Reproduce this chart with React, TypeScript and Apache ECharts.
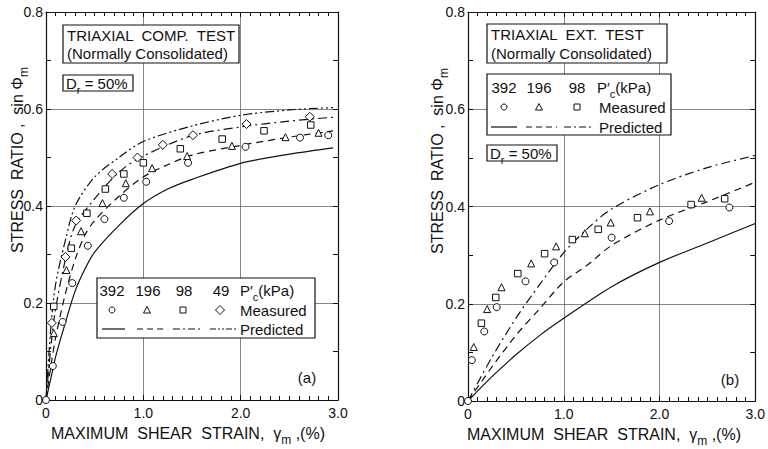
import React, { useEffect, useRef } from "react";
import * as echarts from "echarts";

// ---------- Data (strain %, stress ratio sin phi_m) ----------
// Panel (a) - triaxial compression
const aMeasured392 = [[0, 0], [0.07, 0.07], [0.17, 0.161], [0.27, 0.241], [0.43, 0.318], [0.6, 0.373], [0.8, 0.417], [1.03, 0.45], [1.46, 0.489], [2.05, 0.522], [2.61, 0.541], [2.9, 0.546]];
const aMeasured196 = [[0.08, 0.138], [0.21, 0.268], [0.36, 0.348], [0.58, 0.406], [0.82, 0.447], [1.09, 0.478], [1.45, 0.503], [1.91, 0.524], [2.46, 0.542], [2.8, 0.551]];
const aMeasured98 = [[0.08, 0.193], [0.26, 0.313], [0.42, 0.385], [0.61, 0.435], [0.8, 0.466], [1.0, 0.489], [1.38, 0.518], [1.81, 0.538], [2.24, 0.555], [2.72, 0.567]];
const aMeasured49 = [[0.06, 0.159], [0.2, 0.295], [0.31, 0.37], [0.68, 0.466], [0.94, 0.5], [1.2, 0.526], [1.51, 0.546], [2.06, 0.569], [2.71, 0.584]];

const aPredicted392 = [[0, 0], [0.05, 0.045], [0.1, 0.09], [0.2, 0.16], [0.3, 0.225], [0.4, 0.27], [0.5, 0.305], [0.75, 0.36], [1.0, 0.405], [1.25, 0.435], [1.5, 0.455], [2.0, 0.488], [2.5, 0.507], [2.95, 0.52]];
const aPredicted196 = [[0, 0], [0.05, 0.07], [0.1, 0.13], [0.2, 0.22], [0.3, 0.29], [0.4, 0.34], [0.5, 0.37], [0.75, 0.42], [1.0, 0.46], [1.25, 0.485], [1.5, 0.505], [2.0, 0.525], [2.5, 0.542], [2.95, 0.555]];
const aPredicted98 = [[0, 0], [0.05, 0.11], [0.1, 0.19], [0.2, 0.29], [0.3, 0.36], [0.5, 0.415], [0.75, 0.47], [1.0, 0.503], [1.5, 0.545], [2.0, 0.563], [2.5, 0.575], [2.95, 0.583]];
const aPredicted49 = [[0, 0], [0.05, 0.15], [0.1, 0.24], [0.2, 0.33], [0.3, 0.4], [0.5, 0.46], [0.75, 0.5], [1.0, 0.533], [1.5, 0.565], [2.0, 0.587], [2.5, 0.598], [2.95, 0.603]];

// Panel (b) - triaxial extension
const bMeasured392 = [[0, 0], [0.04, 0.084], [0.17, 0.143], [0.3, 0.193], [0.6, 0.246], [0.9, 0.285], [1.5, 0.336], [2.1, 0.37], [2.73, 0.398]];
const bMeasured196 = [[0.06, 0.111], [0.2, 0.189], [0.35, 0.234], [0.66, 0.283], [0.92, 0.318], [1.22, 0.345], [1.49, 0.367], [1.9, 0.39], [2.44, 0.418]];
const bMeasured98 = [[0.14, 0.16], [0.29, 0.213], [0.52, 0.262], [0.8, 0.303], [1.09, 0.332], [1.36, 0.353], [1.77, 0.377], [2.33, 0.404], [2.68, 0.416]];

const bPredicted392 = [[0, 0], [0.25, 0.05], [0.5, 0.095], [0.75, 0.135], [1.0, 0.17], [1.5, 0.235], [2.0, 0.285], [2.5, 0.325], [3.0, 0.365]];
const bPredicted196 = [[0, 0], [0.25, 0.07], [0.5, 0.135], [0.75, 0.19], [1.0, 0.245], [1.25, 0.28], [1.5, 0.32], [2.0, 0.372], [2.5, 0.41], [3.0, 0.45]];
const bPredicted98 = [[0, 0], [0.25, 0.09], [0.5, 0.17], [0.75, 0.24], [1.0, 0.305], [1.25, 0.355], [1.5, 0.395], [2.0, 0.445], [2.5, 0.48], [3.0, 0.505]];

const pressuresA = ["392", "196", "98", "49"];
const pressuresB = ["392", "196", "98"];

const FONT = '"Liberation Sans", Arial, sans-serif';
const INK = "#111";

const DASH_SOLID: any = "solid";
const DASH_DASHED = [7, 5];
const DASH_DOT = [9, 4, 2, 4];
const DASH_DOTDOT = [9, 3, 2, 3, 2, 3];

function xAxes(grid: number) {
  const common = {
    gridIndex: grid,
    type: "value",
    min: 0,
    max: 3,
    interval: 1,
    axisLine: { show: true, onZero: false, lineStyle: { color: INK, width: 1.2 } },
    axisTick: { show: true, inside: true, length: 5, lineStyle: { color: INK } },
    minorTick: { show: true, splitNumber: 10, length: 4, lineStyle: { color: INK } },
  };
  return [
    {
      ...common,
      position: "bottom",
      axisLabel: {
        show: true,
        color: INK,
        fontFamily: FONT,
        fontSize: 14,
        margin: 6,
        formatter: (v: number) => (v === 0 ? "0" : v.toFixed(1)),
      },
      splitLine: { show: true, lineStyle: { color: "#666", width: 0.8 } },
    },
    {
      ...common,
      position: "top",
      axisLabel: { show: false },
      splitLine: { show: false },
    },
  ];
}

function yAxes(grid: number) {
  const common = {
    gridIndex: grid,
    type: "value",
    min: 0,
    max: 0.8,
    interval: 0.2,
    axisLine: { show: true, onZero: false, lineStyle: { color: INK, width: 1.2 } },
    axisTick: { show: true, inside: true, length: 5, lineStyle: { color: INK } },
    minorTick: { show: true, splitNumber: 2, length: 5, lineStyle: { color: INK } },
  };
  return [
    {
      ...common,
      position: "left",
      axisLabel: {
        show: true,
        color: INK,
        fontFamily: FONT,
        fontSize: 14,
        margin: 3,
        formatter: (v: number) => (v === 0 ? "0" : v.toFixed(1)),
      },
      splitLine: { show: true, lineStyle: { color: "#666", width: 0.8 } },
    },
    {
      ...common,
      position: "right",
      axisLabel: { show: false },
      splitLine: { show: false },
    },
  ];
}

function lineSeries(data: number[][], dash: any, axisIdx: number) {
  return {
    type: "line",
    data,
    xAxisIndex: axisIdx,
    yAxisIndex: axisIdx,
    smooth: 0.3,
    showSymbol: false,
    symbol: "none",
    lineStyle: { color: INK, width: 1.2, type: dash },
    z: 3,
  };
}

function scatterSeries(data: number[][], symbol: string, size: number, axisIdx: number) {
  return {
    type: "scatter",
    data,
    xAxisIndex: axisIdx,
    yAxisIndex: axisIdx,
    symbol,
    symbolSize: size,
    itemStyle: { color: "#ffffff", borderColor: INK, borderWidth: 1, opacity: 1 },
    z: 5,
  };
}

const txt = (x: number, y: number, text: string, size = 15, align = "left", extra: any = {}) => ({
  type: "text",
  x,
  y,
  z: 20,
  style: {
    text,
    fontFamily: FONT,
    fontSize: size,
    fill: INK,
    align,
    textAlign: align,
    verticalAlign: "middle",
    textVerticalAlign: "middle",
    ...extra,
  },
});

const box = (x: number, y: number, w: number, h: number) => ({
  type: "rect",
  z: 15,
  shape: { x, y, width: w, height: h },
  style: { fill: "#fff", stroke: INK, lineWidth: 1.2 },
});

const sampleLine = (x1: number, x2: number, y: number, dash: any) => ({
  type: "line",
  z: 20,
  shape: { x1, y1: y, x2, y2: y },
  style: { stroke: INK, lineWidth: 1.2, lineDash: dash === "solid" ? null : dash },
});

const markerCircle = (cx: number, cy: number) => ({
  type: "circle",
  z: 20,
  shape: { cx, cy, r: 3 },
  style: { fill: "#fff", stroke: INK, lineWidth: 1 },
});
const markerTriangle = (cx: number, cy: number) => ({
  type: "polygon",
  z: 20,
  shape: { points: [[cx, cy - 3.5], [cx + 3.5, cy + 3], [cx - 3.5, cy + 3]] },
  style: { fill: "#fff", stroke: INK, lineWidth: 1 },
});
const markerSquare = (cx: number, cy: number) => ({
  type: "rect",
  z: 20,
  shape: { x: cx - 3, y: cy - 3, width: 6, height: 6 },
  style: { fill: "#fff", stroke: INK, lineWidth: 1 },
});
const markerDiamond = (cx: number, cy: number) => ({
  type: "polygon",
  z: 20,
  shape: { points: [[cx, cy - 4.5], [cx + 4.5, cy], [cx, cy + 4.5], [cx - 4.5, cy]] },
  style: { fill: "#fff", stroke: INK, lineWidth: 1 },
});

const subRich = (size: number) => ({
  a: { fontFamily: FONT, fontSize: size, fill: INK, color: INK, lineHeight: size + 2 },
  s: { fontFamily: FONT, fontSize: size - 4, fill: INK, color: INK, lineHeight: size + 10, verticalAlign: "bottom" },
});

const yTitle = (x: number, y: number) => ({
  type: "text",
  x,
  y,
  rotation: Math.PI / 2,
  z: 20,
  style: {
    text: "{a|STRESS  RATIO ,  sin Φ}{s|m}",
    rich: subRich(16),
    align: "center",
    textAlign: "center",
    verticalAlign: "middle",
    textVerticalAlign: "middle",
  },
});

const xTitle = (x: number, y: number) => ({
  type: "text",
  x,
  y,
  z: 20,
  style: {
    text: "{a|MAXIMUM  SHEAR  STRAIN,  γ}{s|m}{a| ,(%)}",
    rich: subRich(16),
    align: "center",
    textAlign: "center",
    verticalAlign: "middle",
    textVerticalAlign: "middle",
  },
});

const drBox = (x: number, y: number) => [
  box(x, y, 70, 16),
  txt(x + 3, y + 8, "{a|D}{s|r}{a| = 50%}", 15, "left", { rich: subRich(15) }),
];

const pcText = (x: number, y: number) => txt(x, y, "{a|P′}{s|c}{a|(kPa)}", 15, "left", { rich: subRich(15) });

export default function App() {
  const ref = useRef<HTMLDivElement>(null);

  useEffect(() => {
    if (!ref.current) return;
    const chart = echarts.init(ref.current, null, { renderer: "svg" });

    const xa = [...xAxes(0), ...xAxes(1)];
    const ya = [...yAxes(0), ...yAxes(1)];

    const graphic: any[] = [
      // axis titles
      yTitle(17, 160),
      xTitle(188, 433),
      yTitle(437, 161),
      xTitle(604, 434),
      // panel (a) boxes
      box(63, 25, 176, 38),
      txt(67, 35, "TRIAXIAL  COMP.  TEST", 15),
      txt(67, 53, "(Normally Consolidated)", 15),
      ...drBox(63, 75),
      box(97, 278, 218, 60),
      ...pressuresA.map((p, i) => txt([112, 148, 184, 221][i], 290, p, 15, "center")),
      pcText(240, 290),
      markerCircle(112, 310),
      markerTriangle(147, 310),
      markerSquare(183, 310),
      markerDiamond(220, 310),
      txt(240, 310, "Measured", 15),
      sampleLine(102, 125, 329, "solid"),
      sampleLine(137, 163, 329, [6, 4]),
      sampleLine(173, 200, 329, [7, 3, 2, 3]),
      sampleLine(210, 238, 329, [6, 2, 2, 2, 2, 2]),
      txt(240, 329, "Predicted", 15),
      txt(307, 377, "(a)", 15, "center"),
      // panel (b) boxes
      box(487, 24, 180, 39),
      txt(491, 34, "TRIAXIAL  EXT.  TEST", 15),
      txt(491, 53, "(Normally Consolidated)", 15),
      box(487, 74, 184, 61),
      ...pressuresB.map((p, i) => txt([504, 539, 577][i], 87, p, 15, "center")),
      pcText(597, 87),
      markerCircle(504, 107),
      markerTriangle(539, 107),
      markerSquare(577, 107),
      txt(599, 107, "Measured", 15),
      sampleLine(491, 517, 127, "solid"),
      sampleLine(526, 557, 127, [6, 4]),
      sampleLine(564, 592, 127, [7, 3, 2, 3]),
      txt(599, 127, "Predicted", 15),
      ...drBox(487, 145),
      txt(730, 379, "(b)", 15, "center"),
    ];

    chart.setOption({
      animation: false,
      backgroundColor: "#fff",
      grid: [
        { left: 46, top: 12, width: 292, height: 388 },
        { left: 468, top: 12, width: 292, height: 389 },
      ],
      xAxis: xa,
      yAxis: ya,
      series: [
        lineSeries(aPredicted392, DASH_SOLID, 0),
        lineSeries(aPredicted196, DASH_DASHED, 0),
        lineSeries(aPredicted98, DASH_DOT, 0),
        lineSeries(aPredicted49, DASH_DOTDOT, 0),
        scatterSeries(aMeasured392, "circle", 7, 0),
        scatterSeries(aMeasured196, "triangle", 7, 0),
        scatterSeries(aMeasured98, "rect", 6.5, 0),
        scatterSeries(aMeasured49, "diamond", 9, 0),
        lineSeries(bPredicted392, DASH_SOLID, 2),
        lineSeries(bPredicted196, DASH_DASHED, 2),
        lineSeries(bPredicted98, DASH_DOT, 2),
        scatterSeries(bMeasured392, "circle", 7, 2),
        scatterSeries(bMeasured196, "triangle", 7, 2),
        scatterSeries(bMeasured98, "rect", 6.5, 2),
      ],
      graphic,
    });

    return () => chart.dispose();
  }, []);

  return (
    <div
      ref={ref}
      style={{ position: "absolute", left: 0, top: 0, width: 768, height: 449, background: "#fff" }}
    />
  );
}
